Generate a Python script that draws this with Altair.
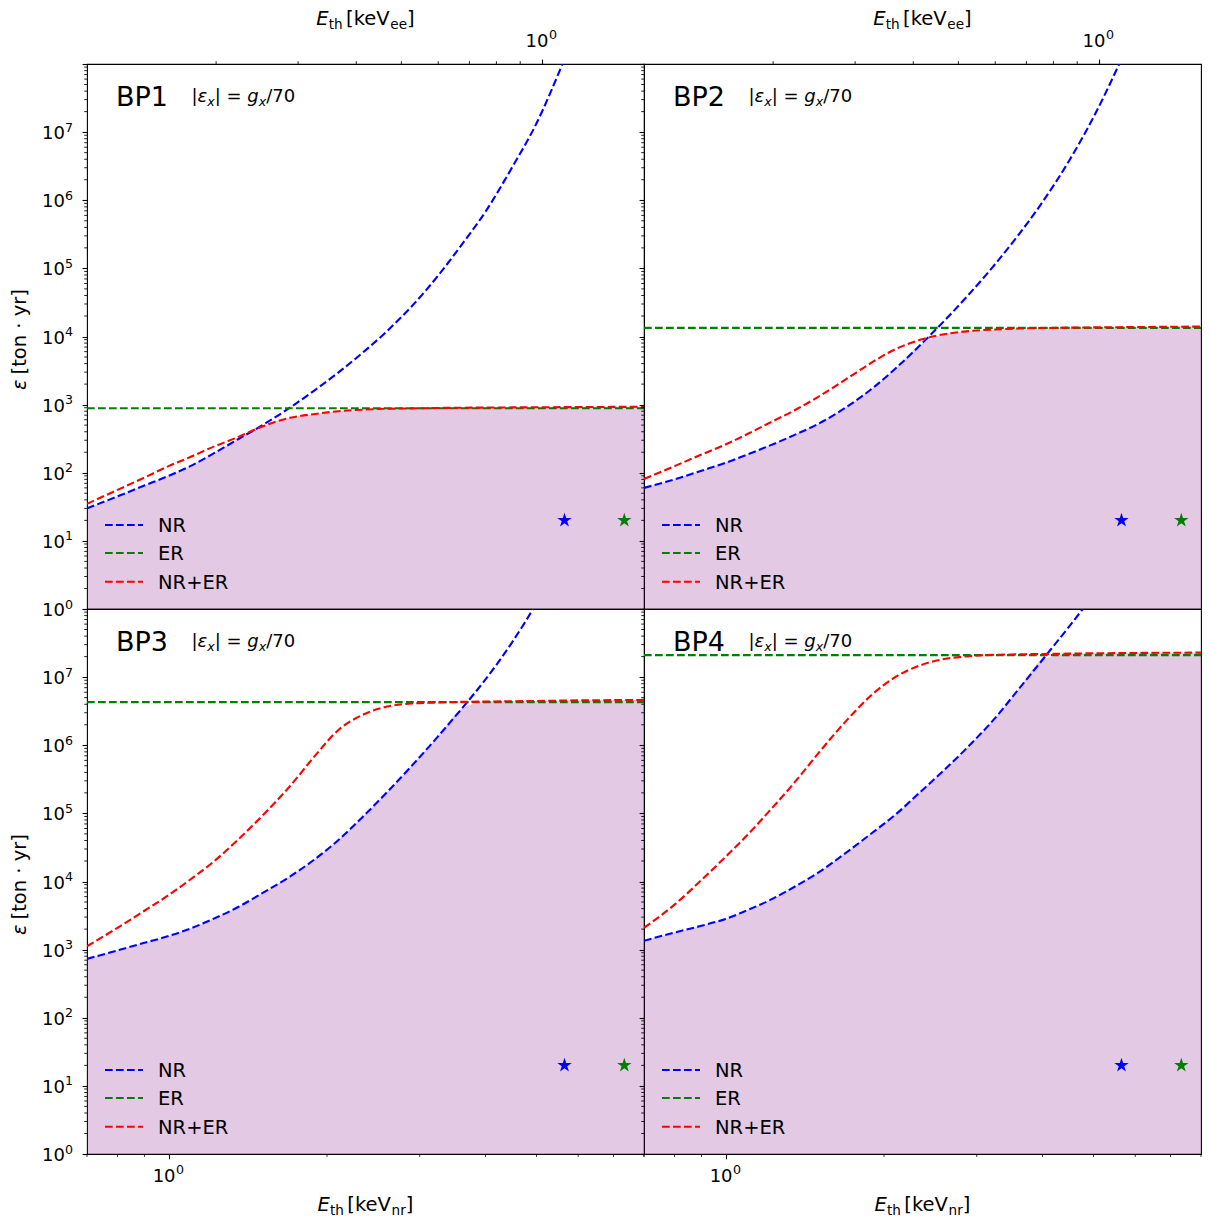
import altair as alt
import pandas as pd

# ---------------- data ----------------
E_NR = [0.70, 0.80, 0.90, 1.00, 1.10, 1.20, 1.35, 1.50, 1.70, 1.90, 2.10, 2.35,
        2.60, 2.90, 3.25, 3.60, 4.00, 4.50, 5.00, 5.60, 6.30, 7.10, 8.00]

BP_NAMES = ["BP1", "BP2", "BP3", "BP4"]

NR = {
    "BP1": [30, 45, 65, 90, 125, 180, 305, 487, 900, 1650, 2950, 6000,
            12000, 28000, 78000, 220000, 680000, 3.1e6, 1.35e7, 1e8, 1e9, 1e10, 1e11],
    "BP2": [60, 80, 107, 140, 185, 242, 357, 522, 930, 1730, 3360, 7640,
            16800, 41600, 115000, 309000, 942000, 3.87e6, 1.66e7, 1.02e8, 8.3e8, 8e9, 8e10],
    "BP3": [730, 975, 1260, 1580, 2040, 2700, 4150, 6600, 11800, 21500, 40400, 92500,
            204500, 503000, 1.35e6, 3.4e6, 9.26e6, 3.3e7, 1.22e8, 6e8, 4e9, 3e10, 2e11],
    "BP4": [1350, 1780, 2240, 2820, 3800, 5100, 8300, 13500, 27000, 52000, 95000, 210000,
            430000, 980000, 2.5e6, 6.6e6, 1.8e7, 5.6e7, 1.6e8, 5e8, 2e9, 8e9, 3e10],
}
NRER = {
    "BP1": [35, 56, 85, 125, 170, 230, 330, 470, 640, 730, 800, 845,
            870, 880, 893, 900, 905, 910, 914, 918, 922, 926, 930],
    "BP2": [81, 125, 185, 260, 370, 520, 820, 1300, 2400, 4200, 6500, 9000,
            10800, 12000, 12700, 13100, 13300, 13500, 13600, 13700, 13800, 13900, 14000],
    "BP3": [1120, 2090, 3720, 6300, 10700, 17800, 40000, 89000, 250000, 710000, 1.66e6, 2.85e6,
            3.7e6, 4.1e6, 4.25e6, 4.33e6, 4.38e6, 4.43e6, 4.47e6, 4.52e6, 4.57e6, 4.6e6, 4.63e6],
    "BP4": [2090, 4570, 10500, 23000, 48000, 100000, 280000, 760000, 2.34e6, 5.58e6, 1.0e7, 1.5e7,
            1.84e7, 2.03e7, 2.13e7, 2.16e7, 2.19e7, 2.21e7, 2.24e7, 2.25e7, 2.27e7, 2.28e7, 2.29e7],
}
ER = {"BP1": 885, "BP2": 13400, "BP3": 4.3e6, "BP4": 2.1e7}

STAR_E = [5.65, 7.34]
STAR_EXPOSURE = [20, 20]
STAR_SERIES = ["NR", "ER"]

SERIES = ["NR", "ER", "NR+ER"]
COLORS = ["#0000ff", "#008000", "#ff0000"]
FILL_COLOR = "#800080"

X_DOMAIN = [0.7, 8.0]
Y_DOMAIN = [1.0, 1.0e8]
EE_DOMAIN = [0.1056, 1.66]
Y_MAJOR = [10.0 ** k for k in range(0, 9)]
Y_LABELED = [10.0 ** k for k in range(0, 8)]
Y_EXP = [str(k) for k in range(0, 8)]
Y_MINOR = [m * 10.0 ** k for k in range(0, 8) for m in range(2, 10)]
X_MAJOR = [1.0]
X_EXP = ["0"]
X_MINOR = [0.7, 0.8, 0.9, 2, 3, 4, 5, 6, 7, 8]
EE_MAJOR = [1.0]
EE_EXP = ["0"]
EE_MINOR = [0.2, 0.3, 0.4, 0.5, 0.6, 0.7, 0.8, 0.9]

# ---------------- style ----------------
W, H = 557, 545
FONT = "DejaVu Sans"
DASH = [7.7, 3.3]
LW = 2.1
MAJ_TICK = 4.9
MIN_TICK = 2.8
TICK_FS = 18
EXP_FS = 12.6
LABEL_FS = 19.5
SUB_FS = 13.6

# DejaVu Sans advance widths (units of 1/2048 em)
ADV = {' ': 651, '|': 690, '=': 1716, '/': 690, 'E': 1294, '[': 799, ']': 799,
       'k': 1186, 'e': 1260, 'V': 1401, 'n': 1298, 'r': 842, 't': 803, 'h': 1298,
       'g': 1300, 'x': 1212, 'ε': 1100, 'o': 1253, 'y': 1212, '·': 651}
for d in "0123456789":
    ADV[d] = 1303


def twidth(s, size):
    return sum(ADV.get(c, 1250) for c in s) / 2048.0 * size


xs = alt.Scale(type="log", domain=X_DOMAIN, nice=False)
ys = alt.Scale(type="log", domain=Y_DOMAIN, nice=False)
ees = alt.Scale(type="log", domain=EE_DOMAIN, nice=False)

ONE = pd.DataFrame({"d": [0]})


def text_piece(txt, x, y, size, italic=False, align="left", angle=None, baseline="alphabetic"):
    mk = dict(text=txt, align=align, baseline=baseline, font=FONT,
              fontSize=size, color="black")
    if italic:
        mk["fontStyle"] = "italic"
    if angle is not None:
        mk["angle"] = angle
    return alt.Chart(ONE).mark_text(**mk).encode(x=alt.value(x), y=alt.value(y))


def rich(pieces, x, y, center=True):
    """pieces: list of (text, size, italic, dy, extra_gap_after)"""
    total = sum(twidth(t, s) + g for t, s, it, dy, g in pieces)
    cur = x - total / 2.0 if center else x
    out = []
    for t, s, it, dy, g in pieces:
        out.append(text_piece(t, cur, y + dy, s, it))
        cur += twidth(t, s) + g
    return out


def rich_vertical(pieces, x, y_center):
    total = sum(twidth(t, s) + g for t, s, it, g in pieces)
    cur = y_center + total / 2.0
    out = []
    for t, s, it, g in pieces:
        out.append(text_piece(t, x, cur, s, it, angle=270, baseline="middle"))
        cur -= twidth(t, s) + g
    return out


def eth_title(sub, y):
    return rich([("E", LABEL_FS, True, 0, 0),
                 ("th", SUB_FS, False, 4, 3.5),
                 ("[keV", LABEL_FS, False, 0, 0),
                 (sub, SUB_FS, False, 4, 0),
                 ("]", LABEL_FS, False, 0, 0)], W / 2.0, y)


def panel(idx):
    name = BP_NAMES[idx]
    left = idx % 2 == 0
    bottom = idx >= 2
    top = idx < 2

    nr = NR[name]
    nrer = NRER[name]
    fill_top = [min(a, b) for a, b in zip(nr, nrer)]
    df = pd.DataFrame({"E": E_NR, "nr": nr, "nrer": nrer, "fill": fill_top,
                       "base": [Y_DOMAIN[0]] * len(E_NR)})
    df_er = pd.DataFrame({"E": X_DOMAIN, "er": [ER[name]] * 2})

    if bottom:
        xaxis = alt.Axis(values=X_MAJOR, labels=False, title=None, orient="bottom",
                         tickSize=MAJ_TICK)
    else:
        xaxis = None
    yaxis = alt.Axis(values=Y_MAJOR, labels=False, title=None, tickSize=MAJ_TICK)

    def X(field):
        return alt.X(field, scale=xs, axis=xaxis)

    def Y(field):
        return alt.Y(field, scale=ys, axis=yaxis)

    layers = []
    layers.append(
        alt.Chart(df).mark_area(fill=FILL_COLOR, fillOpacity=0.21, strokeWidth=0,
                                interpolate="monotone").encode(
            x=X("E:Q"), y=Y("fill:Q"), y2="base:Q",
        )
    )
    line_kw = dict(strokeDash=DASH, strokeWidth=LW, clip=True, interpolate="monotone")
    layers.append(alt.Chart(df).mark_line(color=COLORS[0], **line_kw).encode(
        x=X("E:Q"), y=Y("nr:Q")))
    layers.append(alt.Chart(df_er).mark_line(color=COLORS[1], **line_kw).encode(
        x=X("E:Q"), y=Y("er:Q")))
    layers.append(alt.Chart(df).mark_line(color=COLORS[2], **line_kw).encode(
        x=X("E:Q"), y=Y("nrer:Q")))

    # stars
    star = ("M0,-1L0.2245,-0.309L0.951,-0.309L0.363,0.118L0.588,0.809L0,0.382"
            "L-0.588,0.809L-0.363,0.118L-0.951,-0.309L-0.2245,-0.309Z")
    df_star = pd.DataFrame({"E": STAR_E, "v": STAR_EXPOSURE, "s": STAR_SERIES})
    layers.append(alt.Chart(df_star).mark_point(shape=star, filled=True, size=230,
                                                opacity=1, strokeWidth=0).encode(
        x=X("E:Q"), y=Y("v:Q"),
        color=alt.Color("s:N", scale=alt.Scale(domain=SERIES, range=COLORS), legend=None)))

    # minor y ticks
    df_ymin = pd.DataFrame({"v": Y_MINOR})
    layers.append(alt.Chart(df_ymin).mark_rule(color="black", strokeWidth=0.85).encode(
        y=Y("v:Q"), x=alt.value(0), x2=alt.value(-MIN_TICK)))

    # y tick labels 10^k
    if left:
        df_yl = pd.DataFrame({"v": Y_LABELED, "exp": Y_EXP})
        layers.append(alt.Chart(df_yl).mark_text(
            text="10", align="right", baseline="alphabetic", font=FONT, fontSize=TICK_FS,
            color="black", dy=7).encode(y=Y("v:Q"), x=alt.value(-22)))
        layers.append(alt.Chart(df_yl).mark_text(
            align="left", baseline="alphabetic", font=FONT, fontSize=EXP_FS,
            color="black", dy=-0.5).encode(y=Y("v:Q"), x=alt.value(-22), text="exp:N"))
        layers += rich_vertical([("ε", LABEL_FS, True, 5),
                                 ("[ton · yr]", LABEL_FS, False, 0)], -67.5, H / 2.0 + 3)

    if bottom:
        df_xmin = pd.DataFrame({"E": X_MINOR})
        layers.append(alt.Chart(df_xmin).mark_rule(color="black", strokeWidth=0.85).encode(
            x=X("E:Q"), y=alt.value(H), y2=alt.value(H + MIN_TICK)))
        df_xl = pd.DataFrame({"E": X_MAJOR, "exp": X_EXP})
        layers.append(alt.Chart(df_xl).mark_text(
            text="10", align="right", baseline="alphabetic", font=FONT, fontSize=TICK_FS,
            color="black", dx=7).encode(x=X("E:Q"), y=alt.value(H + 28)))
        layers.append(alt.Chart(df_xl).mark_text(
            align="left", baseline="alphabetic", font=FONT, fontSize=EXP_FS,
            color="black", dx=7.5).encode(x=X("E:Q"), y=alt.value(H + 20), text="exp:N"))
        layers += eth_title("nr", H + 57)

    # legend
    rows = [461, 489, 517.7]
    for s, c, ry in zip(SERIES, COLORS, rows):
        layers.append(alt.Chart(ONE).mark_rule(color=c, strokeDash=DASH, strokeWidth=LW).encode(
            x=alt.value(18), x2=alt.value(56), y=alt.value(ry)))
        layers.append(text_piece(s, 71, ry + 7, LABEL_FS))

    # panel labels
    layers.append(text_piece(name, 29, 42, 27))
    layers += rich([("|", 18, False, 0, 0), ("ε", 18, True, 0, 0), ("x", 12.6, True, 3.5, 0),
                    ("| = ", 18, False, 0, 0), ("g", 18, True, 0, 0), ("x", 12.6, True, 3.5, 0),
                    ("/70", 18, False, 0, 0)], 104.5, 38, center=False)

    if top:
        layers += eth_title("ee", -39)

    main = alt.layer(*layers)
    if top:
        df_ee = pd.DataFrame({"ee": EE_MAJOR, "exp": EE_EXP})
        df_eemin = pd.DataFrame({"ee": EE_MINOR})
        ee_axis = alt.Axis(values=EE_MAJOR, labels=False, title=None, orient="top",
                           tickSize=MAJ_TICK)
        EEX = alt.X("ee:Q", scale=ees, axis=ee_axis)
        ee_lab1 = alt.Chart(df_ee).mark_text(
            text="10", align="right", baseline="alphabetic", font=FONT, fontSize=TICK_FS,
            color="black", dx=7).encode(x=EEX, y=alt.value(-17))
        ee_lab2 = alt.Chart(df_ee).mark_text(
            align="left", baseline="alphabetic", font=FONT, fontSize=EXP_FS,
            color="black", dx=7.5).encode(x=EEX, y=alt.value(-25), text="exp:N")
        ee_ticks = alt.Chart(df_eemin).mark_rule(color="black", strokeWidth=0.85).encode(
            x=EEX, y=alt.value(0), y2=alt.value(-MIN_TICK))
        ee = alt.layer(ee_lab1, ee_lab2, ee_ticks)
        full = alt.layer(main, ee).resolve_scale(x="independent")
    else:
        full = main
    return full.properties(width=W, height=H)


panels = [panel(i) for i in range(4)]

chart = alt.concat(*panels, columns=2, spacing=0, bounds="flush").properties(
    padding={"left": 0, "top": 0, "right": 0, "bottom": -2},
).configure_view(
    stroke="black", strokeWidth=1.1
).configure_axis(
    domain=False, grid=False, tickColor="black", tickWidth=1.1,
)

chart.save("out.html", embed_options={"renderer": "svg", "actions": False})
